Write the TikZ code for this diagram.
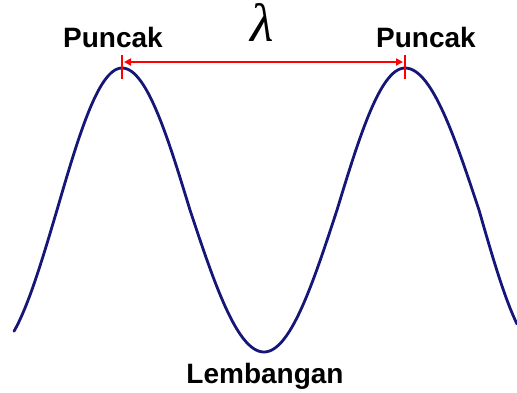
\documentclass[tikz,border=0pt]{standalone}
\usepackage{fontspec}
\setmainfont{Liberation Sans}
\newfontfamily\lamfont{Liberation Serif}
\usetikzlibrary{arrows.meta}
\definecolor{wavecol}{RGB}{22,22,120}
\begin{document}
\begin{tikzpicture}[x=1pt,y=-1pt,
  wave/.style={draw=wavecol,line width=2.8pt,line cap=round},
  mark1/.style={draw=red,line width=2pt},
  lbl/.style={font=\bfseries\fontsize{28}{30}\selectfont,inner sep=0pt,anchor=base},
  lam/.style={font=\lamfont\itshape\fontsize{54}{56}\selectfont,inner sep=0pt,anchor=base}]
\useasboundingbox (0,0) rectangle (517,392);
% wave
\draw[wave] plot[domain=14:57,samples=20,smooth] (\x,{210+142*sin(90*(57-\x)/66)})
  -- plot[domain=57:122,samples=30,smooth] (\x,{210-142*sin(90*(\x-57)/65)})
  -- plot[domain=122:190,samples=30,smooth] (\x,{210-142*cos(90*(\x-122)/68)})
  -- plot[domain=190:264,samples=30,smooth] (\x,{210+142*sin(90*(\x-190)/74)})
  -- plot[domain=264:337,samples=30,smooth] (\x,{210+142*cos(90*(\x-264)/73)})
  -- plot[domain=337:405,samples=30,smooth] (\x,{210-142*sin(90*(\x-337)/68)})
  -- plot[domain=405:479,samples=30,smooth] (\x,{210-142*cos(90*(\x-405)/74)})
  -- plot[domain=479:517,samples=20,smooth] (\x,{210+142*sin(90*(\x-479)/64)});
% peak markers
\coordinate (p1t) at (122,55);
\coordinate (p1b) at (122,79);
\coordinate (p2t) at (405,55);
\coordinate (p2b) at (405,79);
\coordinate (a1) at (124,62);
\coordinate (a2) at (403,62);
\draw[mark1] (p1t) -- (p1b);
\draw[mark1] (p2t) -- (p2b);
\draw[draw=red,line width=2pt,{Triangle[length=7pt,width=7pt]}-{Triangle[length=7pt,width=7pt]}] (a1) -- (a2);
% labels
\node[lbl] (pk1) at (113,47) {Puncak};
\node[lbl] (pk2) at (426,47) {Puncak};
\node[lbl] (tr) at (265,383) {Lembangan};
\node[lam] (lm) at (262,41) {λ};
\end{tikzpicture}
\end{document}
